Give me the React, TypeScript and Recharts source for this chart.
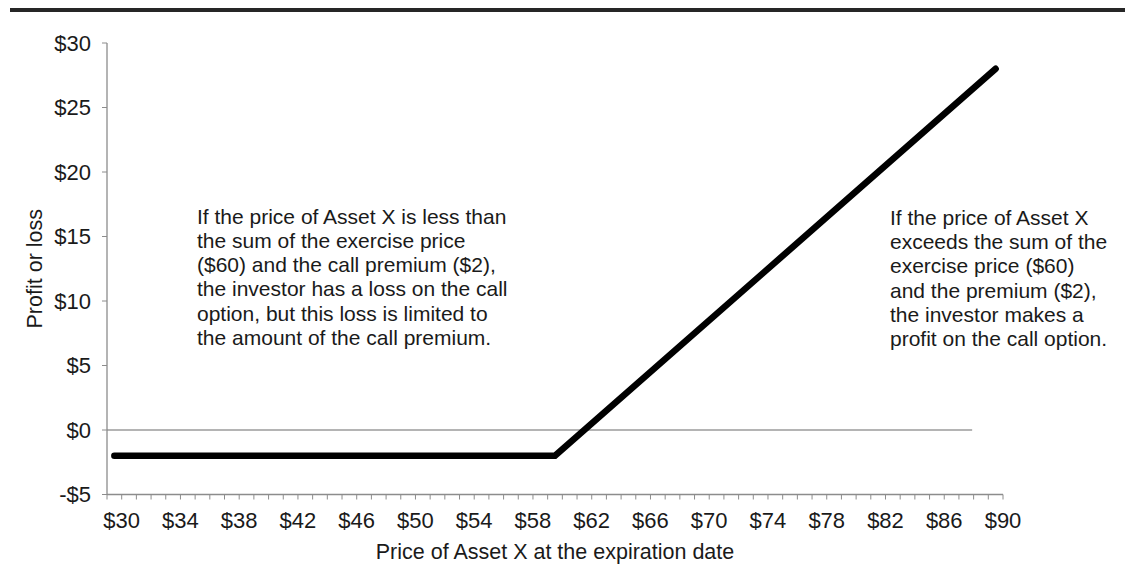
import { ComposedChart, Line, ReferenceLine, XAxis, YAxis } from "recharts";

// Long call payoff: flat loss of the premium up to the strike, then rises 1:1
const PRICES = [30, 60, 90];
const PROFIT = [-2, -2, 28];

const X_LABELS = [30, 34, 38, 42, 46, 50, 54, 58, 62, 66, 70, 74, 78, 82, 86, 90];
const Y_TICKS = [-5, 0, 5, 10, 15, 20, 25, 30];

// the gray zero line stops short of the right end of the axis
const ZERO_LINE_FROM = 29.5;
const ZERO_LINE_TO = 88.4;

const LEFT_NOTE = [
  "If the price of Asset X is less than",
  "the sum of the exercise price",
  "($60) and the call premium ($2),",
  "the investor has a loss on the call",
  "option, but this loss is limited to",
  "the amount of the call premium.",
];
const RIGHT_NOTE = [
  "If the price of Asset X",
  "exceeds the sum of the",
  "exercise price ($60)",
  "and the premium ($2),",
  "the investor makes a",
  "profit on the call option.",
];

const FONT = '"Liberation Sans", Arial, Helvetica, sans-serif';
const TEXT = "#1a1a1a";
const AXIS = "#8c8c8c";
const FS = 21;
const TICK_FS = 22;

const data = PRICES.map((p, i) => ({ price: p, profit: PROFIT[i] }));

// category boundaries — tick marks sit between the $1 steps
const boundaries = Array.from({ length: 62 }, (_, i) => 29.5 + i);

function XTick({ x, y, payload }: { x: number; y: number; payload: { value: number } }) {
  const k = payload.value - 0.5;
  if (!X_LABELS.includes(k)) return <g />;
  return (
    <text x={x} y={y + 26} textAnchor="middle" fontSize={TICK_FS} fill={TEXT} fontFamily={FONT}>
      {`$${k}`}
    </text>
  );
}

function Note({ lines, left, top }: { lines: string[]; left: number; top: number }) {
  return (
    <div
      style={{
        position: "absolute", left, top,
        fontSize: FS, lineHeight: "24.2px", color: TEXT,
        whiteSpace: "nowrap", fontFamily: FONT,
      }}
    >
      {lines.map((l) => <div key={l}>{l}</div>)}
    </div>
  );
}

export default function App() {
  return (
    <div style={{ position: "absolute", left: 0, top: 0, width: 1125, height: 576, background: "#fff", fontFamily: FONT }}>
      <div style={{ position: "absolute", left: 10, top: 8, width: 1115, height: 3.5, background: "#262626" }} />

      <ComposedChart width={1125} height={576} data={data} margin={{ top: 43, right: 122, bottom: 0, left: 0 }}>
        <XAxis
          dataKey="price" type="number" domain={[29.5, 90.5]}
          ticks={boundaries} interval={0}
          tick={XTick}
          tickSize={5} tickLine={{ stroke: AXIS }}
          axisLine={{ stroke: AXIS, strokeWidth: 1.3 }}
          height={81.5}
          label={{ value: "Price of Asset X at the expiration date", position: "insideBottom", offset: 16.7, fontSize: 21.5, fill: TEXT, fontFamily: FONT }}
        />
        <YAxis
          type="number" domain={[-5, 30]} ticks={Y_TICKS} interval={0}
          tickFormatter={(v: number) => (v < 0 ? `-$${-v}` : `$${v}`)}
          tick={{ fontSize: TICK_FS, fill: TEXT, fontFamily: FONT }}
          tickSize={5} tickMargin={11} tickLine={{ stroke: AXIS }}
          axisLine={{ stroke: AXIS, strokeWidth: 1.3 }}
          width={107}
          label={{
            content: ({ viewBox }: any) => {
              const cx = viewBox.x + 35;
              const cy = viewBox.y + viewBox.height / 2;
              return (
                <text x={cx} y={cy} transform={`rotate(-90 ${cx} ${cy})`} textAnchor="middle"
                  dominantBaseline="central" fontSize={21.5} fill={TEXT} fontFamily={FONT}>
                  Profit or loss
                </text>
              );
            },
          }}
        />

        <ReferenceLine
          segment={[{ x: ZERO_LINE_FROM, y: 0 }, { x: ZERO_LINE_TO, y: 0 }]}
          stroke="#b4b4b4" strokeWidth={2}
        />

        <Line
          dataKey="profit" type="linear"
          stroke="#000" strokeWidth={6.5}
          strokeLinecap="round" strokeLinejoin="miter"
          dot={false} activeDot={false}
          isAnimationActive={false}
        />
      </ComposedChart>

      <Note lines={LEFT_NOTE} left={197} top={204.7} />
      <Note lines={RIGHT_NOTE} left={890} top={206} />
    </div>
  );
}
